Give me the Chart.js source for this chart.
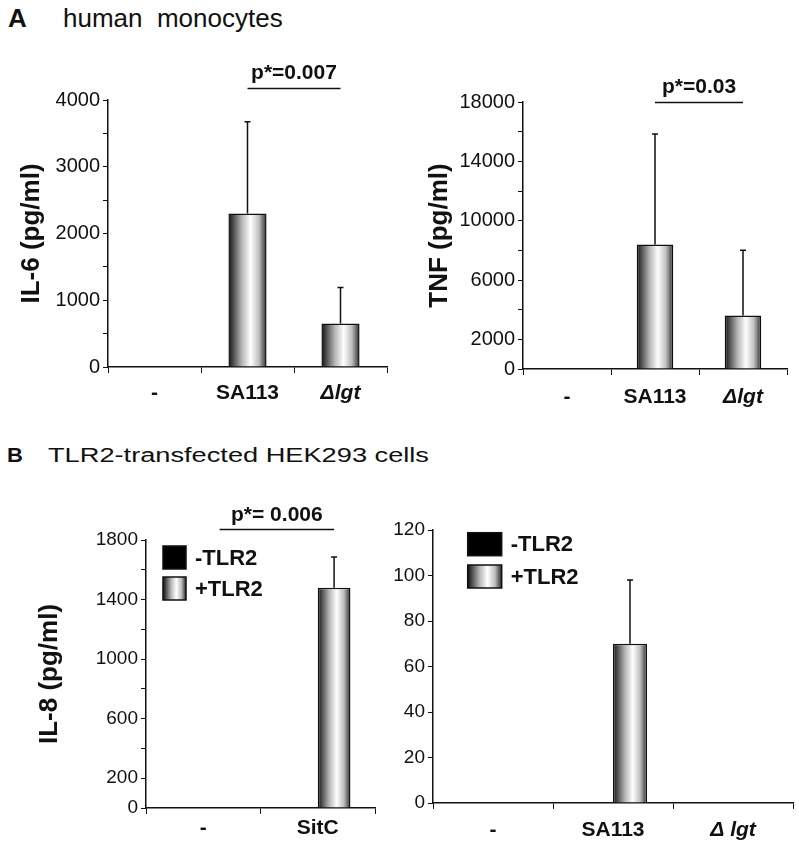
<!DOCTYPE html>
<html lang="en">
<head>
    <meta charset="UTF-8">
    <title>Cytokine responses - monocytes and HEK293 cells</title>
    <script src="https://cdn.jsdelivr.net/npm/chart.js"></script>
    <style>
        html, body { margin: 0; padding: 0; background: #fff; }
        #fig { position: relative; width: 799px; height: 850px; overflow: hidden;
               font-family: "Liberation Sans", Arial, sans-serif; color: #111; }
        #fig canvas { position: absolute; }
        .hdr { position: absolute; white-space: pre; line-height: 1; transform-origin: left top; }
        .tag { font-weight: bold; }
    </style>
</head>
<body>
<div id="fig">
    <div class="hdr tag" style="left:8px;top:5px;font-size:26px">A</div>
    <div class="hdr" style="left:63px;top:5px;font-size:26px">human  monocytes</div>
    <div class="hdr tag" style="left:7px;top:445px;font-size:20px;transform:scaleX(1.1)">B</div>
    <div class="hdr" style="left:48px;top:445px;font-size:20px;transform:scaleX(1.36)">TLR2-transfected HEK293 cells</div>

    <canvas id="il6" width="400" height="380" style="left:0;top:40px"></canvas>
    <canvas id="tnf" width="399" height="380" style="left:400px;top:40px"></canvas>
    <canvas id="il8" width="400" height="370" style="left:0;top:480px"></canvas>
    <canvas id="hek" width="419" height="370" style="left:380px;top:480px"></canvas>
</div>

<script>
    // --- data ---
    const monoLabels = ['-', 'SA113', 'Δlgt'];
    const il6Mean = [0, 2300, 650];
    const il6Err = [0, 1375, 540];
    const tnfMean = [0, 8400, 3600];
    const tnfErr = [0, 7450, 4400];

    const il8Labels = ['-', 'SitC'];
    const il8Minus = [0, 0];
    const il8Plus = [0, 1480];
    const il8PlusErr = [0, 205];

    const hekLabels = ['-', 'SA113', 'Δ lgt'];
    const hekMinus = [0, 0, 0];
    const hekPlus = [0, 70, 0];
    const hekPlusErr = [0, 28, 0];

    const FONT = '"Liberation Sans", Arial, sans-serif';
    const INK = '#111';
    Chart.defaults.font.family = FONT;
    Chart.defaults.color = INK;
    Chart.defaults.animation = false;

    // grey cylinder-like shading used for the bars
    function shade(ctx, x0, x1) {
        const g = ctx.createLinearGradient(x0, 0, x1, 0);
        g.addColorStop(0, '#111');
        g.addColorStop(0.12, '#4a4a4a');
        g.addColorStop(0.35, '#b5b5b5');
        g.addColorStop(0.58, '#ffffff');
        g.addColorStop(0.8, '#bebebe');
        g.addColorStop(1, '#2a2a2a');
        return g;
    }

    const shadedBars = {
        id: 'shadedBars',
        beforeDatasetsDraw(chart) {
            chart.data.datasets.forEach((ds, i) => {
                if (!ds.shaded) return;
                chart.getDatasetMeta(i).data.forEach(el => {
                    const h = el.width / 2;
                    el.options = Object.assign({}, el.options,
                        { backgroundColor: shade(chart.ctx, el.x - h, el.x + h) });
                });
            });
        }
    };

    const errorBars = {
        id: 'errorBars',
        afterDatasetsDraw(chart) {
            const { ctx, scales: { y } } = chart;
            chart.data.datasets.forEach((ds, i) => {
                if (!ds.errors) return;
                chart.getDatasetMeta(i).data.forEach((el, j) => {
                    const e = ds.errors[j];
                    if (!e) return;
                    const top = y.getPixelForValue(ds.data[j] + e);
                    ctx.save();
                    ctx.strokeStyle = INK;
                    ctx.lineWidth = 1.5;
                    ctx.beginPath();
                    ctx.moveTo(el.x, el.y);
                    ctx.lineTo(el.x, top);
                    ctx.moveTo(el.x - 3, top);
                    ctx.lineTo(el.x + 3, top);
                    ctx.stroke();
                    ctx.restore();
                });
            });
        }
    };

    // significance line + p value above two bars
    const bracket = {
        id: 'bracket',
        afterDraw(chart, args, opts) {
            if (!opts || !opts.text) return;
            const a = chart.getDatasetMeta(opts.from[0]).data[opts.from[1]];
            const b = chart.getDatasetMeta(opts.to[0]).data[opts.to[1]];
            const ctx = chart.ctx;
            const yy = Math.round(chart.chartArea.top - opts.lift) + 0.5;
            ctx.save();
            ctx.strokeStyle = INK;
            ctx.lineWidth = 1.5;
            ctx.beginPath();
            ctx.moveTo(a.x, yy);
            ctx.lineTo(b.x, yy);
            ctx.stroke();
            ctx.fillStyle = INK;
            ctx.font = 'bold 21px ' + FONT;
            ctx.textAlign = 'center';
            ctx.textBaseline = 'middle';
            ctx.fillText(opts.text, (a.x + b.x) / 2, yy - opts.gap);
            ctx.restore();
        }
    };

    // boxed legend drawn inside the plot area
    const boxLegend = {
        id: 'boxLegend',
        afterDraw(chart, args, opts) {
            if (!opts || opts.w === undefined) return;
            const { ctx, chartArea } = chart;
            chart.data.datasets.forEach((ds, i) => {
                const x = chartArea.left + opts.dx;
                const y = chartArea.top + opts.dy + i * opts.step;
                ctx.save();
                ctx.fillStyle = ds.shaded ? shade(ctx, x, x + opts.w) : ds.backgroundColor;
                ctx.fillRect(x, y, opts.w, opts.h);
                ctx.strokeStyle = INK;
                ctx.lineWidth = 1.5;
                ctx.strokeRect(x, y, opts.w, opts.h);
                ctx.fillStyle = INK;
                ctx.font = 'bold 22px ' + FONT;
                ctx.textBaseline = 'middle';
                ctx.fillText(ds.label, x + opts.w + 9, y + opts.h / 2 + 1);
                ctx.restore();
            });
        }
    };

    function yAxis(o) {
        return {
            min: 0,
            max: o.max,
            afterFit: s => { s.width = o.width; },
            border: { color: INK, width: 1.5 },
            grid: { drawOnChartArea: false, color: INK, lineWidth: 1, tickLength: 5 },
            ticks: { stepSize: o.step, padding: 3, color: INK, font: { size: o.tickSize || 20 },
                     callback: o.label },
            title: o.title ? {
                display: true, text: o.title, color: INK,
                font: { size: 26, weight: 'bold' },
                padding: { top: o.titlePad, bottom: 0 }
            } : { display: false }
        };
    }

    function xAxis(h, pad) {
        return {
            afterFit: s => { s.height = h; },
            border: { color: INK, width: 1.5 },
            grid: { drawOnChartArea: false, color: INK, lineWidth: 1, tickLength: 6, offset: true },
            ticks: {
                padding: pad, color: INK, maxRotation: 0, autoSkip: false,
                font: c => ({ size: 21, weight: 'bold',
                              style: (c.tick && /lgt/.test(c.tick.label)) ? 'italic' : 'normal' })
            }
        };
    }

    const plugins = [shadedBars, errorBars, bracket, boxLegend];

    // A: IL-6
    new Chart(document.getElementById('il6'), {
        type: 'bar',
        data: {
            labels: monoLabels,
            datasets: [{ label: 'IL-6', data: il6Mean, errors: il6Err, shaded: true,
                         borderColor: INK, borderWidth: 1.5,
                         categoryPercentage: 0.41, barPercentage: 1 }]
        },
        options: {
            responsive: false,
            layout: { padding: { top: 60, right: 13, left: 0, bottom: 0 } },
            plugins: {
                legend: { display: false }, tooltip: { enabled: false },
                bracket: { text: 'p*=0.007', from: [0, 1], to: [0, 2], lift: 12, gap: 15 }
            },
            scales: {
                x: xAxis(53, 8),
                y: yAxis({ max: 4000, step: 500, width: 108, title: 'IL-6 (pg/ml)', titlePad: 16.4,
                           label: v => (v % 1000 === 0 ? v : '') })
            }
        },
        plugins
    });

    // A: TNF
    new Chart(document.getElementById('tnf'), {
        type: 'bar',
        data: {
            labels: monoLabels,
            datasets: [{ label: 'TNF', data: tnfMean, errors: tnfErr, shaded: true,
                         borderColor: INK, borderWidth: 1.5,
                         categoryPercentage: 0.416, barPercentage: 1 }]
        },
        options: {
            responsive: false,
            layout: { padding: { top: 62, right: 12, left: 0, bottom: 0 } },
            plugins: {
                legend: { display: false }, tooltip: { enabled: false },
                bracket: { text: 'p*=0.03', from: [0, 1], to: [0, 2], lift: 0, gap: 15 }
            },
            scales: {
                x: xAxis(51, 10),
                y: yAxis({ max: 18000, step: 2000, width: 123, title: 'TNF (pg/ml)', titlePad: 24.4,
                           label: v => (v === 0 || (v / 2000) % 2 === 1 ? v : '') })
            }
        },
        plugins
    });

    // B: IL-8
    new Chart(document.getElementById('il8'), {
        type: 'bar',
        data: {
            labels: il8Labels,
            datasets: [
                { label: '-TLR2', data: il8Minus, backgroundColor: '#000',
                  borderColor: INK, borderWidth: 1.5 },
                { label: '+TLR2', data: il8Plus, errors: il8PlusErr, shaded: true,
                  borderColor: INK, borderWidth: 1.5 }
            ]
        },
        options: {
            responsive: false,
            datasets: { bar: { categoryPercentage: 0.571, barPercentage: 1 } },
            layout: { padding: { top: 60, right: 25, left: 0, bottom: 0 } },
            plugins: {
                legend: { display: false }, tooltip: { enabled: false },
                bracket: { text: 'p*= 0.006', from: [1, 0], to: [1, 1], lift: 11, gap: 14 },
                boxLegend: { dx: 17, dy: 6, w: 23, h: 23, step: 31 }
            },
            scales: {
                x: xAxis(42, 2),
                y: yAxis({ max: 1800, step: 200, width: 146, title: 'IL-8 (pg/ml)', titlePad: 34.4,
                           tickSize: 19,
                           label: v => (v === 0 || (v / 200) % 2 === 1 ? v : '') })
            }
        },
        plugins
    });

    // B: second HEK293 readout
    new Chart(document.getElementById('hek'), {
        type: 'bar',
        data: {
            labels: hekLabels,
            datasets: [
                { label: '-TLR2', data: hekMinus, backgroundColor: '#000',
                  borderColor: INK, borderWidth: 1.5 },
                { label: '+TLR2', data: hekPlus, errors: hekPlusErr, shaded: true,
                  borderColor: INK, borderWidth: 1.5 }
            ]
        },
        options: {
            responsive: false,
            datasets: { bar: { categoryPercentage: 0.567, barPercentage: 1 } },
            layout: { padding: { top: 50, right: 6, left: 0, bottom: 0 } },
            plugins: {
                legend: { display: false }, tooltip: { enabled: false },
                boxLegend: { dx: 34.7, dy: 2.7, w: 34, h: 23, step: 32.3 }
            },
            scales: {
                x: xAxis(47, 9),
                y: yAxis({ max: 120, step: 20, width: 53, tickSize: 19, label: v => v })
            }
        },
        plugins
    });
</script>
</body>
</html>
